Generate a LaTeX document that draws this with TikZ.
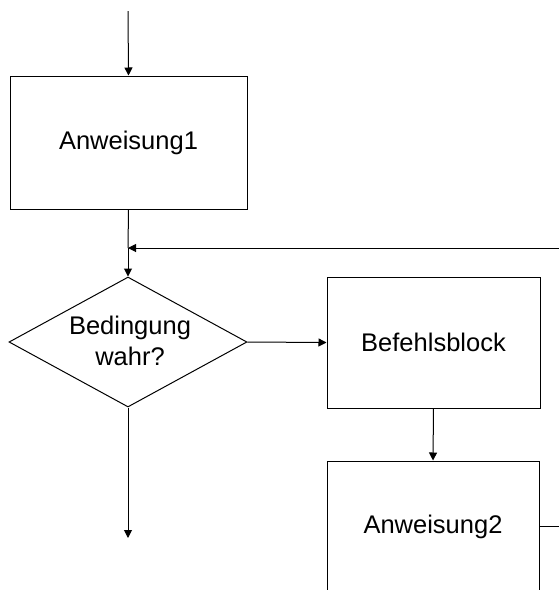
\documentclass[tikz,border=0pt]{standalone}
\usepackage{fontspec}
\setmainfont{Liberation Sans}
\usetikzlibrary{shapes.geometric,arrows.meta}

\tikzset{
  flow/.style={line width=1pt, draw=black},
  arr/.style={flow, -{Triangle[width=8pt,length=8pt]}},
  stepbox/.style={flow, rectangle, inner sep=0pt, font=\fontsize{25.5}{31}\selectfont},
  decision/.style={flow, diamond, inner sep=0pt, minimum width=238pt, minimum height=130pt},
  label text/.style={align=center, inner sep=0pt, font=\fontsize{25.5}{31}\selectfont}
}

\begin{document}
\begin{tikzpicture}[x=1pt, y=-1pt]
  \useasboundingbox (0,0) rectangle (559,590);
  \clip (0,0) rectangle (559,590);

  % entry and exits
  \coordinate (start) at (128,11);
  \coordinate (loopin) at (559,248);
  \coordinate (merge) at (128,248);
  \coordinate (exit) at (128,538);

  % statements and condition
  \node[stepbox, minimum width=237pt, minimum height=133pt] (a1) at (128.5,142.5) {Anweisung1};
  \node[decision] (cond) at (128,342) {};
  \node[label text] (condtext) at (130,341) {Bedingung\\wahr?};
  \node[stepbox, minimum width=213pt, minimum height=131pt] (block) at (433.5,342.5) {Befehlsblock};
  \node[stepbox, minimum width=212pt, minimum height=131pt] (a2) at (433,526.5) {Anweisung2};
  \coordinate (a2out) at (559,526);

  % connectors
  \draw[arr] (start) -- (a1.north);
  \draw[flow] (a1.south) -- (merge);
  \draw[arr] (loopin) -- (merge);
  \draw[arr] (merge) -- (cond.north);
  \draw[arr] (cond.east) -- (block.west);
  \draw[arr] (block.south) -- (a2.north);
  \draw[flow] (a2.east |- a2out) -- (a2out);
  \draw[arr] (cond.south) -- (exit);
\end{tikzpicture}
\end{document}
